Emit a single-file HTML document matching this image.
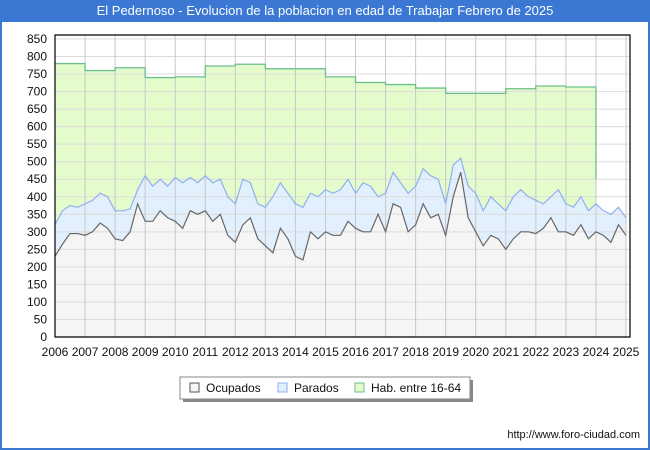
<!DOCTYPE html>
<html><head><meta charset="utf-8"><style>
body{margin:0;background:#fff;font-family:"Liberation Sans","DejaVu Sans",sans-serif}
#wrap{position:relative;width:650px;height:450px;box-sizing:border-box;border:2px solid #3a78d4;border-top:none;background:#fff}
#title{position:absolute;left:0;top:0;width:646px;height:22px;background:#3a78d4;color:#fff;font-size:13px;text-align:center;line-height:22px}
svg{position:absolute;left:-2px;top:0}
</style></head><body>
<div id="wrap">
<div id="title">El Pedernoso - Evolucion de la poblacion en edad de Trabajar Febrero de 2025</div>
<svg id="chart" width="650" height="450" font-family="Liberation Sans, DejaVu Sans, sans-serif"></svg>
</div>
<script>
const years=[2006,2007,2008,2009,2010,2011,2012,2013,2014,2015,2016,2017,2018,2019,2020,2021,2022,2023,2024,2025];
const yTicks=[0,50,100,150,200,250,300,350,400,450,500,550,600,650,700,750,800,850];
const habYears=[2006,2007,2008,2009,2010,2011,2012,2013,2014,2015,2016,2017,2018,2019,2020,2021,2022,2023];
const habValues=[780,760,768,740,742,773,778,765,765,742,726,720,710,695,695,708,716,713];
const habEndValue=450;
const ocupados=[230,265,295,295, 290,300,325,310, 280,275,300,380, 330,330,360,340, 330,310,360,350, 360,330,350,290, 270,320,340,280, 260,240,310,280, 230,220,300,280, 300,290,290,330, 310,300,300,350, 300,380,370,300, 320,380,340,350, 290,400,470,340, 300,260,290,280, 250,280,300,300, 295,310,340,300, 300,290,320,280, 300,290,270,320, 290];
const totalTop=[320,360,375,370, 380,390,410,400, 360,360,365,420, 460,430,450,430, 455,440,455,440, 460,440,450,400, 380,450,440,380, 370,400,440,410, 380,370,410,400, 420,410,420,450, 410,440,430,400, 410,470,440,410, 430,480,460,450, 380,490,510,430, 410,360,400,380, 360,400,420,400, 390,380,400,420, 380,370,400,360, 380,360,350,370, 340];

const L=55,R=630,T=39,B=337;
const x=t=>L+(t-2006)*(626-55)/19;
const y=v=>B-v*(B-T)/850;
const NS='http://www.w3.org/2000/svg';
const svg=document.getElementById('chart');
function mk(tag,a,parent){const e=document.createElementNS(NS,tag);for(const k in a)e.setAttribute(k,a[k]);(parent||svg).appendChild(e);return e;}
const tq=i=>2006+i/4;

mk('rect',{x:L,y:T-4,width:R-L,height:B-T+4,fill:'#fff'});
// hab area
let hp='M'+x(2006)+','+y(0);
habYears.forEach((yr,i)=>{hp+=' L'+x(yr)+','+y(habValues[i])+' L'+x(yr+1)+','+y(habValues[i]);});
hp+=' L'+x(2024)+','+y(habEndValue)+' L'+x(2024)+','+y(0)+'Z';
let e=mk('path',{d:hp,fill:'#e4fccc',stroke:'none'});

// top area
let tp='M'+x(2006)+','+y(0);totalTop.forEach((v,i)=>tp+=' L'+x(tq(i))+','+y(v));
tp+=' L'+x(tq(totalTop.length-1))+','+y(0)+'Z';
e=mk('path',{d:tp,fill:'#e2f0fe'});
let op='M'+x(2006)+','+y(0);ocupados.forEach((v,i)=>op+=' L'+x(tq(i))+','+y(v));
op+=' L'+x(tq(ocupados.length-1))+','+y(0)+'Z';
e=mk('path',{d:op,fill:'#f5f5f5'});
// grid
yTicks.forEach(v=>{mk('line',{x1:L,x2:R,y1:y(v),y2:y(v),stroke:'#dcdcdc','stroke-width':1});
 const t=mk('text',{x:L-8,y:y(v)+4,'text-anchor':'end','font-size':12,fill:'#111'});t.textContent=v;
 });
years.forEach(yr=>{if(yr>2006)mk('line',{x1:x(yr),x2:x(yr),y1:T-4,y2:B,stroke:'#c8c8c8','stroke-width':1});
 const t=mk('text',{x:x(yr),y:B+19,'text-anchor':'middle','font-size':12,fill:'#111'});t.textContent=yr;
 });
// lines
let hl='';habYears.forEach((yr,i)=>{hl+=(i?' L':'M')+x(yr)+','+y(habValues[i])+' L'+x(yr+1)+','+y(habValues[i]);});
hl+=' L'+x(2024)+','+y(habEndValue);
e=mk('path',{d:hl,fill:'none',stroke:'#6cbf8a','stroke-width':1.3});
let tl='';totalTop.forEach((v,i)=>tl+=(i?' L':'M')+x(tq(i))+','+y(v));
e=mk('path',{d:tl,fill:'none',stroke:'#8fb0ef','stroke-width':1.2});
let ol='';ocupados.forEach((v,i)=>ol+=(i?' L':'M')+x(tq(i))+','+y(v));
e=mk('path',{d:ol,fill:'none',stroke:'#666','stroke-width':1.2});
// axes frame
mk('path',{d:`M${L},${T-4} L${R},${T-4} L${R},${B} L${L},${B}Z`,fill:'none',stroke:'#000','stroke-width':1.2});
// legend
const lg=mk('g',{});
mk('rect',{x:183,y:380,width:290,height:22,fill:'#888'},lg);
mk('rect',{x:180,y:377,width:290,height:22,fill:'#fff',stroke:'#888'},lg);
[['Ocupados','#f5f5f5','#555',190],['Parados','#e2f0fe','#8fb0ef',278],['Hab. entre 16-64','#e4fccc','#6cbf8a',355]].forEach(([n,f,s,lx])=>{
 const g=mk('g',{},lg);
 mk('rect',{x:lx,y:383,width:9,height:9,fill:f,stroke:s},g);
 const t=mk('text',{x:lx+16,y:392,'font-size':12,fill:'#111'},g);t.textContent=n;});
const u=mk('text',{x:640,y:438,'text-anchor':'end','font-size':11,fill:'#111'});u.textContent='http://www.foro-ciudad.com';

</script>
</body></html>
